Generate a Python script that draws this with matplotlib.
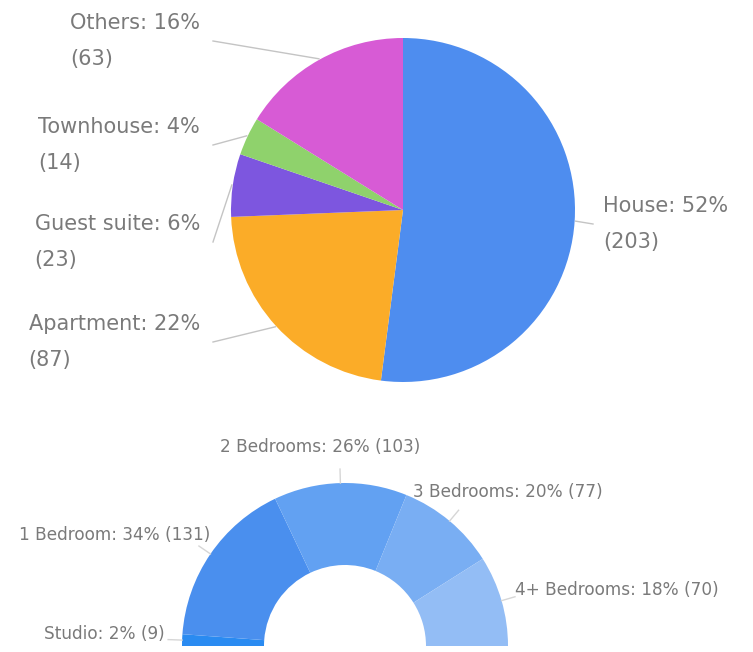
import numpy as np
import matplotlib
matplotlib.use("Agg")
import matplotlib.pyplot as plt

# ---------------- data ----------------
type_labels = ["House", "Apartment", "Guest suite", "Townhouse", "Others"]
type_counts = [203, 87, 23, 14, 63]
type_pcts = [52, 22, 6, 4, 16]
type_colors = ["#4E8DEF", "#FBAC28", "#7D56DF", "#8FD26C", "#D75BD5"]

bed_labels = ["Studio", "1 Bedroom", "2 Bedrooms", "3 Bedrooms", "4+ Bedrooms"]
bed_counts = [9, 131, 103, 77, 70]
bed_pcts = [2, 34, 26, 20, 18]
bed_colors = ["#2A8BF1", "#4A8FEE", "#62A1F2", "#79AEF3", "#93BDF5"]

W, H = 753, 652
TXT = "#7a7a7a"
LINE = "#c4c4c4"
LINE2 = "#d6d6d6"

fig = plt.figure(figsize=(W / 100, H / 100), dpi=100)
ax = fig.add_axes([0, 0, 1, 1])


def Y(py):
    return H - py


# ---------------- top pie ----------------
pc = (403, Y(210))
pr = 172
wedges, _ = ax.pie(type_counts, colors=type_colors, startangle=90,
                   counterclock=False, radius=pr, center=pc, frame=True,
                   wedgeprops=dict(linewidth=0))

# label anchor positions (layout): (x, y, ha)
top_pos = {
    "House": (603, 224, "left"),
    "Apartment": (200, 342, "right"),
    "Guest suite": (200, 242, "right"),
    "Townhouse": (200, 145, "right"),
    "Others": (200, 41, "right"),
}
for w, lab, cnt, pct in zip(wedges, type_labels, type_counts, type_pcts):
    ang = np.deg2rad((w.theta1 + w.theta2) / 2)
    ex = pc[0] + (pr + 1) * np.cos(ang)
    ey = pc[1] + (pr + 1) * np.sin(ang)
    tx, ty, ha = top_pos[lab]
    lx = tx + 13 if ha == "right" else tx - 10
    ax.plot([lx, ex], [Y(ty), ey], color=LINE, lw=1, zorder=1)
    ax.text(tx, Y(ty), f"{lab}: {pct}%\n({cnt})", ha=ha, va="center",
            multialignment="left", fontsize=15, color=TXT, linespacing=2.0)

# ---------------- bottom half donut ----------------
dc = (345, Y(646))
dr = 163
total = sum(bed_counts)
fracs = [c / (2 * total) for c in bed_counts]
dw, _ = ax.pie(fracs, colors=bed_colors, startangle=180, counterclock=False,
               radius=dr, center=dc, normalize=False, frame=True,
               wedgeprops=dict(width=82, linewidth=0))

bot_pos = {
    "Studio": (165, 634, "right"),
    "1 Bedroom": (210, 535, "right"),
    "2 Bedrooms": (320, 447, "center"),
    "3 Bedrooms": (413, 492, "left"),
    "4+ Bedrooms": (515, 590, "left"),
}
for w, lab, cnt, pct in zip(dw, bed_labels, bed_counts, bed_pcts):
    ang = np.deg2rad((w.theta1 + w.theta2) / 2)
    x0 = dc[0] + dr * np.cos(ang)
    y0 = dc[1] + dr * np.sin(ang)
    x1 = dc[0] + (dr + 14) * np.cos(ang)
    y1 = dc[1] + (dr + 14) * np.sin(ang)
    ax.plot([x0, x1], [y0, y1], color=LINE2, lw=1, zorder=1)
    tx, ty, ha = bot_pos[lab]
    ax.text(tx, Y(ty), f"{lab}: {pct}% ({cnt})", ha=ha, va="center",
            fontsize=12.2, color=TXT)

ax.set_xlim(0, W)
ax.set_ylim(0, H)
ax.set_aspect("equal")
ax.axis("off")
fig.savefig("out.png", dpi=100, facecolor="white")
